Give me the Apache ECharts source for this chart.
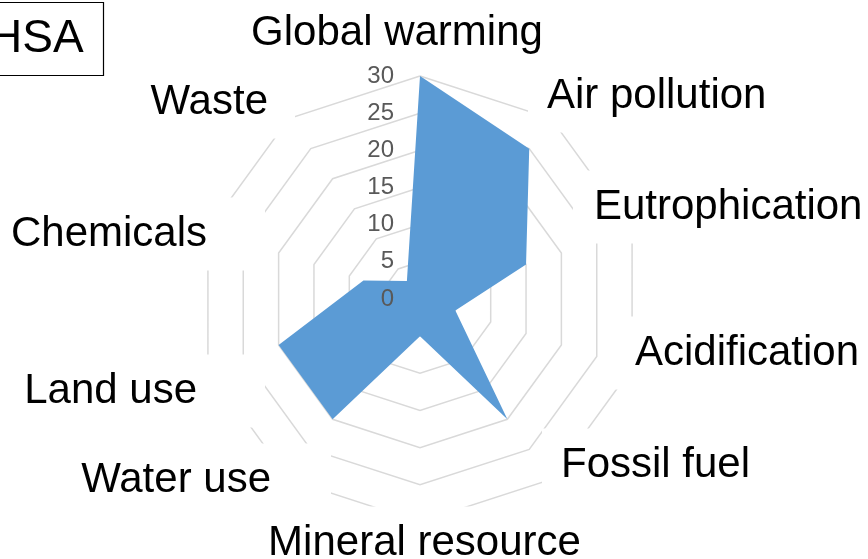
<!DOCTYPE html>
<html>
<head>
<meta charset="utf-8">
<title>HSA</title>
<script src="https://cdn.jsdelivr.net/npm/echarts@6/dist/echarts.min.js"></script>
<style>
  html, body { margin: 0; padding: 0; background: #ffffff; }
  #chart { width: 868px; height: 559px; }
</style>
</head>
<body>
<div id="chart"></div>
<script>
// ---- data ----
const chartTitle = 'HSA';
const categories = ['Global warming', 'Air pollution', 'Eutrophication', 'Acidification', 'Fossil fuel',
                    'Mineral resource', 'Water use', 'Land use', 'Chemicals', 'Waste'];
const scores = [30, 25, 15, 5, 20, 5, 20, 20, 8, 3];
const axisMin = 0;
const axisMax = 30;
const axisSplits = 6;

// ---- label box layout (clockwise from the top) ----
// before/after: horizontal spacers, above/below: vertical spacers, pad: white box padding
const nameLayout = [
  { before: 0,    after: 46,   above: 0,     below: 89.5,  pad: [16, 20, 15, 20] },
  { before: 25.7, after: 0,    above: 0,     below: 179.4, pad: [16, 20, 15, 19] },
  { before: 19.8, after: 0,    above: 0,     below: 97.4,  pad: [16, 20, 15, 21] },
  { before: 61.8, after: 0,    above: 21.4,  below: 0,     pad: [16, 20, 15, 20] },
  { before: 39.7, after: 0,    above: 105.4, below: 0,     pad: [16, 20, 15, 19] },
  { before: 9,    after: 0,    above: 67.5,  below: 0,     pad: [16, 20, 15, 20] },
  { before: 0,    after: 6.7,  above: 135.4, below: 0,     pad: [16, 60, 15, 20] },
  { before: 0,    after: 21.8, above: 97.4,  below: 0,     pad: [16, 68, 15, 20] },
  { before: 0,    after: 21.8, above: 0,     below: 43.4,  pad: [16, 58, 15, 20] },
  { before: 0,    after: 42.7, above: 0,     below: 167.4, pad: [16, 27, 15, 20] }
];

const FONT = '"Liberation Sans", Arial, Helvetica, sans-serif';
const CENTER = [420, 299];
const RADIUS = 223;

// ECharts lays radar indicators out counter-clockwise, so keep the first
// category on top and feed the rest in reverse to run clockwise.
const order = [0].concat(categories.map((_, i) => i).slice(1).reverse());
const gridIndicators = order.map(i => ({ name: categories[i], min: axisMin, max: axisMax }));
const tickIndicators = order.map((i, k) => ({
  name: categories[i], min: axisMin, max: axisMax,
  axisLabel: { show: k === 0 }
}));
const seriesValues = order.map(i => scores[i]);

const rich = {};
nameLayout.forEach((L, i) => {
  rich['t' + i] = { fontSize: 42, color: '#000000', fontFamily: FONT, backgroundColor: '#ffffff', padding: L.pad };
  if (L.before) rich['b' + i] = { width: L.before, fontSize: 1 };
  if (L.after) rich['a' + i] = { width: L.after, fontSize: 1 };
  if (L.above) rich['u' + i] = { fontSize: 1, height: L.above, lineHeight: L.above };
  if (L.below) rich['d' + i] = { fontSize: 1, height: L.below, lineHeight: L.below };
});

function formatName(name) {
  const i = categories.indexOf(name);
  const L = nameLayout[i];
  let s = '';
  if (L.above) s += '{u' + i + '| }\n';
  if (L.before) s += '{b' + i + '| }';
  s += '{t' + i + '|' + name + '}';
  if (L.after) s += '{a' + i + '| }';
  if (L.below) s += '\n{d' + i + '| }';
  return s;
}

const chart = echarts.init(document.getElementById('chart'), null, { renderer: 'canvas' });
chart.setOption({
  backgroundColor: '#ffffff',
  animation: false,
  title: {
    text: chartTitle,
    left: -31,
    top: 2,
    padding: [14, 20, 14, 20],
    borderColor: '#000000',
    borderWidth: 1.2,
    textStyle: { fontSize: 46, fontWeight: 'normal', color: '#000000', fontFamily: FONT }
  },
  radar: [
    {
      // grid rings and category names
      center: CENTER,
      radius: RADIUS,
      shape: 'polygon',
      splitNumber: axisSplits,
      axisNameGap: 140 - RADIUS,
      axisName: {
        show: true,
        color: '#000000',
        fontSize: 42,
        fontFamily: FONT,
        formatter: formatName,
        rich: rich
      },
      axisLine: { show: false },
      axisTick: { show: false },
      axisLabel: { show: false },
      splitArea: { show: false },
      splitLine: { lineStyle: { color: '#d9d9d9', width: 1.5 } },
      indicator: gridIndicators
    },
    {
      // value ticks along the top axis, drawn above the filled area
      center: CENTER,
      radius: RADIUS,
      shape: 'polygon',
      splitNumber: axisSplits,
      z: 5,
      axisName: { show: false },
      axisLine: { show: false },
      axisTick: { show: false },
      axisLabel: { show: false, color: '#595959', fontSize: 24, fontFamily: FONT, margin: 26, padding: [4, 0, 0, 0] },
      splitArea: { show: false },
      splitLine: { show: false },
      indicator: tickIndicators
    }
  ],
  series: [{
    type: 'radar',
    radarIndex: 0,
    silent: true,
    symbol: 'none',
    lineStyle: { width: 0, color: '#5b9bd5' },
    areaStyle: { color: '#5b9bd5', opacity: 1 },
    data: [{ name: chartTitle, value: seriesValues }]
  }]
});
</script>
</body>
</html>
